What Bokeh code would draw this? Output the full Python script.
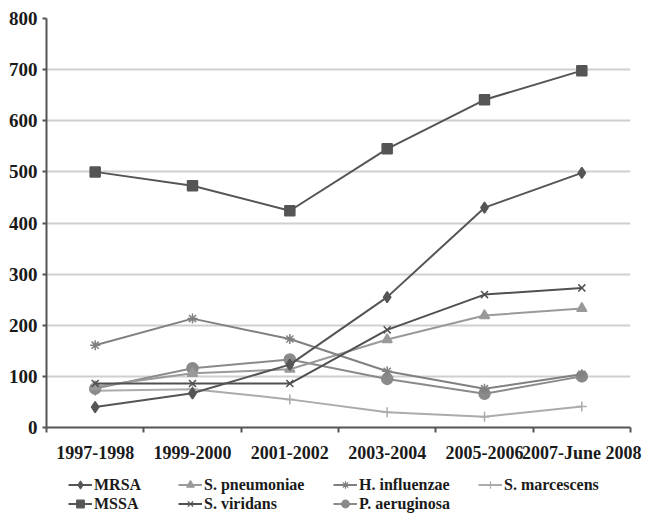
from bokeh.plotting import figure
from bokeh.layouts import column
from bokeh.models import (Range1d, LinearAxis, FixedTicker, Legend, LegendItem, Grid)
from bokeh.embed import file_html
from bokeh.resources import INLINE

# ---- data ----
categories = ["1997-1998", "1999-2000", "2001-2002", "2003-2004", "2005-2006", "2007-June 2008"]
y_ticks = [0, 100, 200, 300, 400, 500, 600, 700, 800]

mrsa = [40, 67, 123, 255, 430, 498]
mssa = [500, 473, 424, 545, 641, 698]
s_pneumoniae = [80, 106, 114, 172, 219, 233]
s_viridans = [86, 86, 86, 191, 260, 273]
h_influenzae = [161, 213, 173, 110, 76, 104]
p_aeruginosa = [76, 116, 133, 95, 66, 100]
s_marcescens = [72, 75, 55, 30, 21, 41]

FONT = "Liberation Serif"

n = len(categories)
xpos = [i + 0.5 for i in range(n)]          # category centres
edges = list(range(n + 1))                  # category boundaries

p = figure(frame_width=584, frame_height=409, output_backend="svg", toolbar_location=None,
           x_range=Range1d(0, n), y_range=Range1d(0, 800),
           x_axis_location=None, y_axis_location=None,
           min_border_left=46, min_border_right=17, min_border_top=18, min_border_bottom=40)
p.outline_line_color = None
p.background_fill_color = "white"
p.border_fill_color = "white"
p.xgrid.visible = False
p.ygrid.visible = False

# y axis
yaxis = LinearAxis(ticker=FixedTicker(ticks=y_ticks))
yaxis.axis_line_color = "#555555"
yaxis.axis_line_width = 2
yaxis.major_tick_line_color = "#555555"
yaxis.major_tick_line_width = 2
yaxis.major_tick_out = 4
yaxis.major_tick_in = 0
yaxis.minor_tick_line_color = None
yaxis.major_label_text_font = FONT
yaxis.major_label_text_font_style = "bold"
yaxis.major_label_text_font_size = "19px"
yaxis.major_label_text_color = "#1a1a1a"
yaxis.major_label_standoff = 5
p.add_layout(yaxis, "left")

p.add_layout(Grid(dimension=1, ticker=yaxis.ticker, grid_line_color="#cfcfcf", grid_line_width=2))

# x axis: labels at category centres, tick marks (minor) at category boundaries
xaxis = LinearAxis(ticker=FixedTicker(ticks=xpos, minor_ticks=edges))
xaxis.major_label_overrides = {x: c for x, c in zip(xpos, categories)}
xaxis.axis_line_color = "#555555"
xaxis.axis_line_width = 2
xaxis.major_tick_line_color = None
xaxis.major_tick_out = 0
xaxis.major_tick_in = 0
xaxis.minor_tick_line_color = "#555555"
xaxis.minor_tick_line_width = 2
xaxis.minor_tick_out = 5
xaxis.minor_tick_in = 0
xaxis.major_label_text_font = FONT
xaxis.major_label_text_font_style = "bold"
xaxis.major_label_text_font_size = "18px"
xaxis.major_label_text_color = "#1a1a1a"
xaxis.major_label_standoff = 10
p.add_layout(xaxis, "below")

series = [
    ("S. marcescens", s_marcescens, "#ababab", "cross", 10),
    ("P. aeruginosa", p_aeruginosa, "#8a8a8a", "circle", 11),
    ("S. pneumoniae", s_pneumoniae, "#9a9a9a", "triangle", 10),
    ("H. influenzae", h_influenzae, "#808080", "asterisk", 10),
    ("S. viridans", s_viridans, "#505050", "x", 10),
    ("MRSA", mrsa, "#555555", "diamond", 11),
    ("MSSA", mssa, "#555555", "square", 10),
]

for name, vals, color, marker, size in series:
    fill = color if marker in ("circle", "triangle", "diamond", "square") else None
    p.line(xpos, vals, line_color=color, line_width=2)
    p.scatter(xpos, vals, marker=marker, size=size, line_color=color,
              fill_color=fill, line_width=1.5)

# ---- legend strip under the chart (same series, drawn outside its visible range) ----
H2 = 49
q = figure(width=647, height=H2, output_backend="svg", toolbar_location=None,
           x_range=Range1d(0, n), y_range=Range1d(-2, -1),
           x_axis_location=None, y_axis_location=None,
           min_border_left=0, min_border_right=0, min_border_top=0, min_border_bottom=0)
q.outline_line_color = None
q.xgrid.visible = False
q.ygrid.visible = False
q.background_fill_color = "white"
q.border_fill_color = "white"

legend_renderers = {}
for name, vals, color, marker, size in series:
    fill = color if marker in ("circle", "triangle", "diamond", "square") else None
    ln = q.line(xpos, vals, line_color=color, line_width=2)
    sc = q.scatter(xpos, vals, marker=marker, size=max(size - 3, 6), line_color=color,
                   fill_color=fill, line_width=1.2)
    legend_renderers[name] = [ln, sc]

FRAME_LEFT = 46
ROW_H = 19
TOP = 8
legend_columns = [
    (["MRSA", "MSSA"], 68),
    (["S. pneumoniae", "S. viridans"], 178),
    (["H. influenzae", "P. aeruginosa"], 333),
    (["S. marcescens"], 478),
]
for names, sx in legend_columns:
    lg = Legend(items=[LegendItem(label=nm, renderers=legend_renderers[nm]) for nm in names],
                orientation="vertical")
    lg.location = (sx - FRAME_LEFT, H2 - TOP - ROW_H * len(names))
    lg.label_text_font = FONT
    lg.label_text_font_style = "bold"
    lg.label_text_font_size = "16px"
    lg.label_text_color = "#1a1a1a"
    lg.glyph_width = 24
    lg.glyph_height = ROW_H
    lg.label_height = ROW_H
    lg.label_standoff = 2
    lg.spacing = 0
    lg.padding = 0
    lg.margin = 0
    lg.border_line_color = None
    lg.background_fill_alpha = 0
    q.add_layout(lg, "center")

layout = column(p, q, spacing=0)
open("out.html", "w").write(file_html(layout, INLINE))
